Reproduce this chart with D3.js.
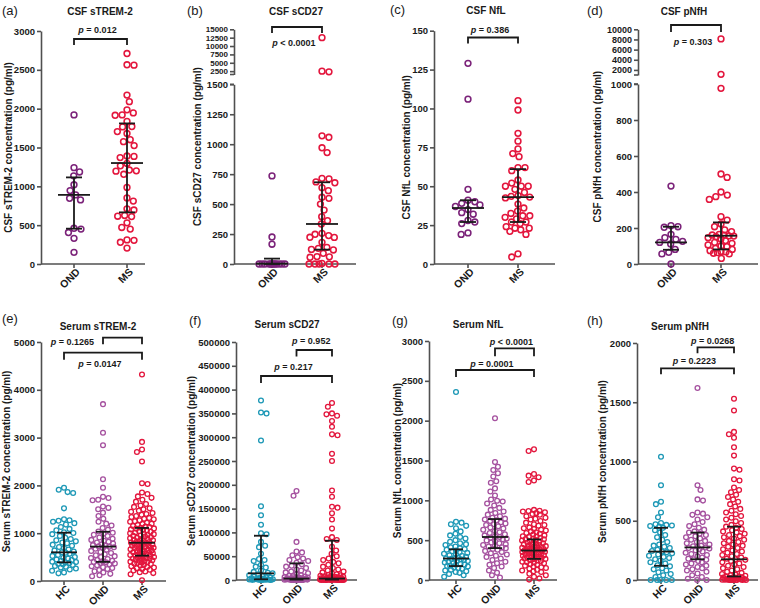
<!DOCTYPE html>
<html><head><meta charset="utf-8">
<script src="https://cdn.jsdelivr.net/npm/d3@7"></script>
<style>body{margin:0;background:#fff}svg text{font-family:Arial,"Liberation Sans",sans-serif}</style>
</head><body><svg id="c" width="760" height="608"></svg>
<script>
// ---------------- DATA ----------------
// (a) CSF sTREM-2
const csfTrem2_OND = [1920,1240,1185,1135,1020,945,890,845,825,460,450,405,330,150];
const csfTrem2_MS = [2710,2565,2560,2175,2090,1985,1945,1920,1915,1835,1770,1765,1705,1680,1600,1575,1525,1390,1385,1370,1295,1265,1210,1200,1195,1155,985,850,810,710,695,625,615,610,530,470,450,310,305,280,205];
const csfTrem2_median = [890,1300], csfTrem2_q1 = [455,665], csfTrem2_q3 = [1115,1810];
// (b) CSF sCD27
const csfCD27_OND = [735,225,165,0,0,0,0,0,0,0,0,0,0,0,0];
const csfCD27_MS = [12500,2500,2300,1070,1058,970,930,715,710,685,678,637,612,557,548,500,450,395,362,334,256,248,237,223,222,181,139,131,122,117,89,62,56,60,5,0,0,0,0,0];
const csfCD27_median = [3,334], csfCD27_q1 = [0,120], csfCD27_q3 = [45,682];
// (c) CSF NfL
const csfNfL_OND = [129,106,48,41,40,39,38,37,35,33,32,28,27,26,20,19];
const csfNfL_MS = [105,99,84,79,74,71,69,62,62,60,54,52,50,50,50,48,46,44,43.5,43,42.5,38.5,36,34,32.5,31,31,30,29,27,27,26,24,23,23,22,21,19,6.5,4.5];
const csfNfL_median = [36,43], csfNfL_q1 = [27,27], csfNfL_q3 = [41,61];
// (d) CSF pNfH
const csfNfH_OND = [433,213,207,204,165,146,137,126,120,111,81,65,56,0];
const csfNfH_MS = [8100,1130,976,500,481,400,383,374,359,263,244,222,207,189,180,165,161,160,156,155,152,146,139,130,120,115,106,100,96,87,81,74,70,67,63,60,56,31];
const csfNfH_median = [120,157], csfNfH_q1 = [79,81], csfNfH_q3 = [207,231];
// (e) Serum sTREM-2
const serTrem2_HC = [1950,1910,1860,1840,1520,1290,1270,1260,1240,1210,1180,1130,1090,1060,1020,1005,980,940,905,880,850,830,805,790,760,735,710,690,660,640,615,600,590,570,545,525,500,485,470,450,440,420,405,395,385,375,360,350,335,315,300,280,260,240,215,180,160];
const serTrem2_OND = [3700,3100,2840,2130,1950,1760,1735,1700,1690,1560,1530,1500,1430,1360,1300,1240,1200,1160,1110,1070,1035,1010,990,965,940,910,885,860,840,820,805,785,770,750,735,725,715,705,690,675,655,630,605,585,560,540,520,500,480,460,440,425,410,400,390,375,365,350,330,310,290,270,250,230,205,180,150,120,100];
const serTrem2_MS = [4320,2910,2750,2700,2500,2045,2030,1850,1820,1770,1740,1700,1660,1610,1580,1550,1520,1500,1470,1450,1420,1400,1385,1360,1340,1320,1300,1290,1270,1250,1240,1220,1200,1190,1170,1150,1140,1130,1115,1100,1095,1080,1070,1055,1040,1030,1015,1000,990,980,965,950,945,930,920,905,895,885,870,860,850,840,835,825,815,805,800,795,785,775,765,755,745,740,730,720,710,700,695,685,675,665,655,645,640,630,620,610,600,590,580,575,565,555,545,535,530,520,510,500,490,480,470,465,455,445,435,425,415,405,395,385,375,365,355,340,325,310,295,280,265,250,235,220,200,185,165,140,15];
const serTrem2_median = [600,720,800], serTrem2_q1 = [390,400,530], serTrem2_q3 = [1010,1030,1110];
// (f) Serum sCD27
const serCD27_HC = [377000,352000,350000,293000,155000,136000,116000,98000,96000,80000,72000,69000,55000,44000,42000,40000,32000,28000,26000,20000,17000,15000,14000,12000,10000,8000,7000,6000,5000,4000,3500,3000,2500,2000,1500,1200,1000,900,800,600,500,400,300,200,150,100];
const serCD27_OND = [187000,177000,80000,60000,58000,52000,48000,45000,42000,40000,36000,33000,30000,28000,25000,22000,20000,18000,16000,14000,12000,10000,9000,8000,7000,6000,5500,5000,4500,4000,3500,3000,2800,2500,2200,2000,1800,1600,1400,1200,1000,900,800,700,600,500,400,300,250,200,150,100,80,50];
const serCD27_MS = [372000,364000,350000,348000,345000,334000,322000,306000,304000,265000,250000,188000,175000,154000,152000,140000,127000,108000,90000,86000,84000,70000,62000,55000,50000,45000,42000,38000,35000,32000,28000,25000,22000,20000,18000,16000,14000,12000,11000,10000,9000,8000,7500,7000,6500,6000,5500,5000,4500,4000,3800,3500,3200,3000,2800,2600,2400,2200,2000,1800,1600,1500,1400,1300,1200,1100,1000,900,800,700,600,500,450,400,350,300,250,200,150,100,80,60,40,20];
const serCD27_median = [14000,3000,3000], serCD27_q1 = [1500,800,900], serCD27_q3 = [93000,35000,82500];
// (g) Serum NfL
const serNfL_HC = [2360,730,720,700,680,650,610,580,560,540,520,500,480,460,450,440,420,410,400,390,380,370,360,350,340,330,320,310,300,290,280,275,270,265,260,250,240,235,230,220,210,200,195,190,180,175,170,160,150,140,130,120,110,100,90,75,60,40];
const serNfL_OND = [2030,1480,1420,1380,1340,1300,1240,1220,1150,1110,1060,1010,995,985,960,935,905,880,860,840,820,800,780,770,760,750,740,725,710,700,690,675,660,645,630,615,600,590,575,560,550,540,530,520,510,495,485,470,460,450,440,430,420,410,400,390,380,365,350,335,320,305,290,270,250,230,210,190,170,150,120,90,60,30];
const serNfL_MS = [1640,1620,1330,1310,1290,1250,1230,880,870,865,860,850,840,830,820,800,780,770,760,740,720,700,690,680,660,650,640,630,620,610,600,590,580,570,560,550,545,540,530,520,515,510,500,495,490,480,475,470,460,455,450,445,440,430,425,420,415,410,405,400,395,390,385,380,375,372,370,368,365,360,355,350,345,340,335,330,325,320,315,310,305,300,295,290,285,280,275,270,265,260,250,245,240,230,225,220,210,200,190,180,170,160,150,140,130,120,110,100,80,60,40,20,5];
const serNfL_median = [270,540,370], serNfL_q1 = [175,400,265], serNfL_q3 = [385,765,510];
// (h) Serum pNfH
const serNfH_HC = [1040,800,660,640,570,530,480,470,465,460,455,450,440,420,400,380,360,340,320,300,290,280,270,255,245,240,235,225,215,205,195,185,175,165,150,140,125,115,100,90,80,65,50,40,25,0,0,0,0,0];
const serNfH_OND = [1620,800,760,680,670,570,560,550,530,510,490,470,455,440,425,410,400,390,380,370,360,350,340,330,320,310,300,290,285,280,275,270,265,260,250,240,230,220,210,200,190,180,175,170,160,150,140,130,120,110,100,90,80,70,55,40,25,10,0,0];
const serNfH_MS = [1530,1430,1250,1230,1200,1120,1050,940,930,850,840,780,760,740,720,700,680,660,640,620,600,585,570,555,540,525,510,495,480,465,450,440,430,420,410,400,390,380,370,360,350,340,330,320,310,300,290,280,270,260,250,240,230,220,210,200,190,180,175,170,160,150,140,130,120,110,100,90,80,70,60,50,45,40,35,30,28,25,22,20,18,15,12,10,8,6,5,4,3,2,1,0,0,0,0,0,0];
const serNfH_median = [240,275,175], serNfH_q1 = [120,175,30], serNfH_q3 = [440,400,450];

// ---------------- STYLE / LAYOUT ----------------
const C_HC = "#1d98b6", C_OND_CSF = "#7b2279", C_OND = "#a5519f", C_MS = "#e3163d";
const AX = "#505050", INK = "#1a1a1a";
const rng = (a,b,s)=>d3.range(a,b+s/2,s);

const csfStyle = {r:2.9, sw:1.55, md:7.0, maxW:13, medW:16, capW:8};
const serStyle = {r:2.4, sw:1.3, md:5.6, maxW:12, medW:13, capW:7};

const panels = [
 {letter:"(a)", lx:2, ly:15, title:"CSF sTREM-2", tx:100, ty:15, yt:"CSF sTREM-2 concentration (pg/ml)", ytx:8,
  ax:41, xEnd:145, x0:74, x1:127, cats:["OND","MS"], colors:[C_OND_CSF,C_MS],
  segs:[{d:[0,3000], r:[264,31], t:rng(0,3000,500), fs:9.5}],
  groups:[csfTrem2_OND,csfTrem2_MS], med:csfTrem2_median, q1:csfTrem2_q1, q3:csfTrem2_q3,
  br:[{a:0,b:1,y:39,leg:6,op:"= 0.012",lx:"mid",ly:30}], st:csfStyle},
 {letter:"(b)", lx:187, ly:15, title:"CSF sCD27", tx:296, ty:15, yt:"CSF sCD27 concentration (pg/ml)", ytx:197,
  ax:234, xEnd:356, x0:272, x1:322, cats:["OND","MS"], colors:[C_OND_CSF,C_MS],
  segs:[{d:[0,1500], r:[264,84.3], t:rng(0,1500,250), fs:9.5},{d:[1500,15000], r:[74.5,29.3], t:rng(2500,15000,2500), fs:8}],
  groups:[csfCD27_OND,csfCD27_MS], med:csfCD27_median, q1:csfCD27_q1, q3:csfCD27_q3,
  br:[{a:0,b:1,y:27,leg:6,op:"< 0.0001",lx:"mid",ly:43}], st:csfStyle},
 {letter:"(c)", lx:390, ly:14, title:"CSF NfL", tx:486, ty:14, yt:"CSF NfL concentration (pg/ml)", ytx:406,
  ax:434, xEnd:555, x0:468, x1:518, cats:["OND","MS"], colors:[C_OND_CSF,C_MS],
  segs:[{d:[0,150], r:[264,30.7], t:rng(0,150,25), fs:9.5}],
  groups:[csfNfL_OND,csfNfL_MS], med:csfNfL_median, q1:csfNfL_q1, q3:csfNfL_q3,
  br:[{a:0,b:1,y:37.5,leg:6,op:"= 0.386",lx:"mid",ly:30}], st:csfStyle},
 {letter:"(d)", lx:587, ly:15, title:"CSF pNfH", tx:684, ty:15, yt:"CSF pNfH concentration (pg/ml)", ytx:597,
  ax:638, xEnd:758, x0:671, x1:721, cats:["OND","MS"], colors:[C_OND_CSF,C_MS],
  segs:[{d:[0,1000], r:[264,84], t:rng(0,1000,200), fs:9.5},{d:[1000,10000], r:[75,29.3], t:rng(2000,10000,2000), fs:9}],
  groups:[csfNfH_OND,csfNfH_MS], med:csfNfH_median, q1:csfNfH_q1, q3:csfNfH_q3,
  br:[{a:0,b:1,y:25,leg:7,op:"= 0.303",lx:"mid",ly:42}], st:csfStyle},
 {letter:"(e)", lx:2, ly:323, title:"Serum sTREM-2", tx:98, ty:330, yt:"Serum sTREM-2 concentration (pg/ml)", ytx:6,
  ax:41, xEnd:166, x0:64, x1:142, cats:["HC","OND","MS"], colors:[C_HC,C_OND,C_MS],
  segs:[{d:[0,5000], r:[581,342], t:rng(0,5000,1000), fs:9.5}],
  groups:[serTrem2_HC,serTrem2_OND,serTrem2_MS], med:serTrem2_median, q1:serTrem2_q1, q3:serTrem2_q3,
  br:[{a:1,b:2,y:337.7,leg:6.5,op:"= 0.1265",lx:"left",ly:342},{a:0,b:2,y:352.7,leg:7,op:"= 0.0147",lx:"mid",ly:364}], st:serStyle},
 {letter:"(f)", lx:189, ly:325, title:"Serum sCD27", tx:287, ty:328, yt:"Serum sCD27 concentration (pg/ml)", ytx:191,
  ax:236, xEnd:357, x0:261, x1:332, cats:["HC","OND","MS"], colors:[C_HC,C_OND,C_MS],
  segs:[{d:[0,500000], r:[580,342], t:rng(0,500000,50000), fs:9.5}],
  groups:[serCD27_HC,serCD27_OND,serCD27_MS], med:serCD27_median, q1:serCD27_q1, q3:serCD27_q3,
  br:[{a:1,b:2,y:350,leg:6.5,op:"= 0.952",lx:"mid",ly:341},{a:0,b:2,y:376,leg:7,op:"= 0.217",lx:"mid",ly:367}], st:serStyle},
 {letter:"(g)", lx:392, ly:325, title:"Serum NfL", tx:478, ty:328, yt:"Serum NfL concentration (pg/ml)", ytx:397,
  ax:429, xEnd:557, x0:456, x1:534, cats:["HC","OND","MS"], colors:[C_HC,C_OND,C_MS],
  segs:[{d:[0,3000], r:[580,341], t:rng(0,3000,500), fs:9.5}],
  groups:[serNfL_HC,serNfL_OND,serNfL_MS], med:serNfL_median, q1:serNfL_q1, q3:serNfL_q3,
  br:[{a:1,b:2,y:348.3,leg:8,op:"< 0.0001",lx:"mid",ly:341.5},{a:0,b:2,y:370,leg:7,op:"= 0.0001",lx:"mid",ly:363.5}], st:serStyle},
 {letter:"(h)", lx:587, ly:325, title:"Serum pNfH", tx:680, ty:330, yt:"Serum pNfH concentration (pg/ml)", ytx:602,
  ax:637, xEnd:758, x0:661, x1:734, cats:["HC","OND","MS"], colors:[C_HC,C_OND,C_MS],
  segs:[{d:[0,2000], r:[580,343], t:rng(0,2000,500), fs:9.5}],
  groups:[serNfH_HC,serNfH_OND,serNfH_MS], med:serNfH_median, q1:serNfH_q1, q3:serNfH_q3,
  br:[{a:1,b:2,y:347.3,leg:6,op:"= 0.0268",lx:"mid",ly:341},{a:0,b:2,y:368.3,leg:6,op:"= 0.2223",lx:"mid",ly:361}], st:serStyle}
];

// ---------------- HELPERS ----------------
function swarm(py, md, maxW){
  const order = d3.range(py.length).sort((i,j)=>py[i]-py[j]);
  const xs = new Array(py.length);
  const placed = [];
  let flip = 1;
  for (const i of order){
    const y = py[i];
    let chosen = null;
    for (const f of [1,0.85,0.7,0.55,0.42,0.3,0.18,0]){
      const d = md*f;
      const near = placed.filter(p=>Math.abs(p.y-y) < d);
      const cands = [0];
      near.forEach(p=>{const dx=Math.sqrt(Math.max(0,d*d-(p.y-y)**2)); cands.push(p.x+dx+0.01, p.x-dx-0.01);});
      cands.sort((a,b)=>(Math.abs(a)-Math.abs(b)) || (flip*(b-a)));
      for (const c of cands){
        if (Math.abs(c) > maxW) continue;
        if (near.every(p=>(p.x-c)**2+(p.y-y)**2 >= d*d-0.02)){ chosen=c; break; }
      }
      if (chosen!==null) break;
    }
    if (chosen===null) chosen = 0;
    flip = -flip;
    xs[i] = chosen; placed.push({x:chosen, y});
  }
  return xs;
}

const svg = d3.select("#c");

panels.forEach(P=>{
  const g = svg.append("g");
  const scales = P.segs.map(s=>d3.scaleLinear().domain(s.d).range(s.r));
  const yf = v=>{ for (let k=0;k<P.segs.length;k++){ if (v<=P.segs[k].d[1] || k===P.segs.length-1) return scales[k](v);} };
  const x = d3.scalePoint().domain(P.cats).range([P.x0,P.x1]);
  const y0 = P.segs[0].r[0];
  const yTop = P.segs[P.segs.length-1].r[1];

  // y axis segments
  P.segs.forEach((s,k)=>{
    const a = g.append("g").attr("transform",`translate(${P.ax},0)`)
      .call(d3.axisLeft(scales[k]).tickValues(s.t).tickSize(4).tickSizeOuter(0).tickFormat(d3.format("d")));
    a.select(".domain").attr("stroke",AX).attr("stroke-width",1.6);
    a.selectAll(".tick line").attr("stroke",AX).attr("stroke-width",1.6);
    a.selectAll(".tick text").attr("fill",INK).attr("font-size",s.fs).attr("font-weight","bold").attr("x",-6);
    if (P.segs.length>1){
      const yb = k===0 ? s.r[1] : s.r[0];
      g.append("line").attr("x1",P.ax-4).attr("x2",P.ax).attr("y1",yb).attr("y2",yb).attr("stroke",AX).attr("stroke-width",1.6);
    }
  });
  // x axis
  g.append("line").attr("x1",P.ax).attr("x2",P.xEnd).attr("y1",y0).attr("y2",y0).attr("stroke",AX).attr("stroke-width",1.6);
  P.cats.forEach(c=>{
    g.append("line").attr("x1",x(c)).attr("x2",x(c)).attr("y1",y0).attr("y2",y0+4).attr("stroke",AX).attr("stroke-width",1.6);
    g.append("text").attr("transform",`translate(${x(c)+4},${y0+6}) rotate(-45)`)
      .attr("text-anchor","end").attr("dy","0.35em").attr("font-size",10.5).attr("font-weight","bold").attr("fill",INK).text(c);
  });
  // titles
  g.append("text").attr("x",P.lx).attr("y",P.ly).attr("font-size",13).attr("fill",INK).text(P.letter);
  g.append("text").attr("x",P.tx).attr("y",P.ty).attr("text-anchor","middle").attr("font-size",10).attr("font-weight","bold").attr("fill",INK).text(P.title);
  g.append("text").attr("transform",`translate(${P.ytx},${(y0+yTop)/2}) rotate(-90)`).attr("text-anchor","middle").attr("dy","0.35em")
    .attr("font-size",10).attr("font-weight","bold").attr("fill",INK).text(P.yt);

  // points
  const st = P.st;
  P.groups.forEach((vals,gi)=>{
    const cx = x(P.cats[gi]);
    const py = vals.map(yf);
    const xs = swarm(py, st.md, st.maxW);
    g.append("g").selectAll("circle").data(vals).join("circle")
      .attr("cx",(d,i)=>cx+xs[i]).attr("cy",(d,i)=>py[i]).attr("r",st.r)
      .attr("fill","none").attr("stroke",P.colors[gi]).attr("stroke-width",st.sw);
  });
  // median + IQR
  P.cats.forEach((c,gi)=>{
    const cx = x(c);
    const eb = g.append("g").attr("stroke",INK).attr("stroke-width",1.8);
    eb.append("line").attr("x1",cx).attr("x2",cx).attr("y1",yf(P.q1[gi])).attr("y2",yf(P.q3[gi]));
    eb.append("line").attr("x1",cx-st.capW).attr("x2",cx+st.capW).attr("y1",yf(P.q1[gi])).attr("y2",yf(P.q1[gi]));
    eb.append("line").attr("x1",cx-st.capW).attr("x2",cx+st.capW).attr("y1",yf(P.q3[gi])).attr("y2",yf(P.q3[gi]));
    eb.append("line").attr("x1",cx-st.medW).attr("x2",cx+st.medW).attr("y1",yf(P.med[gi])).attr("y2",yf(P.med[gi]));
  });
  // brackets
  P.br.forEach(b=>{
    const xa = x(P.cats[b.a]), xb = x(P.cats[b.b]);
    g.append("path").attr("d",`M${xa},${b.y+b.leg}V${b.y}H${xb}V${b.y+b.leg}`)
      .attr("fill","none").attr("stroke",INK).attr("stroke-width",1.8);
    const t = g.append("text").attr("y",b.ly).attr("dy","0.35em").attr("font-size",9).attr("font-weight","bold").attr("fill",INK);
    if (b.lx==="left"){ t.attr("x",xa-9).attr("text-anchor","end"); }
    else { t.attr("x",(xa+xb)/2-3).attr("text-anchor","middle"); }
    t.append("tspan").attr("font-style","italic").text("p");
    t.append("tspan").text(" " + b.op);
  });
});
</script></body></html>
